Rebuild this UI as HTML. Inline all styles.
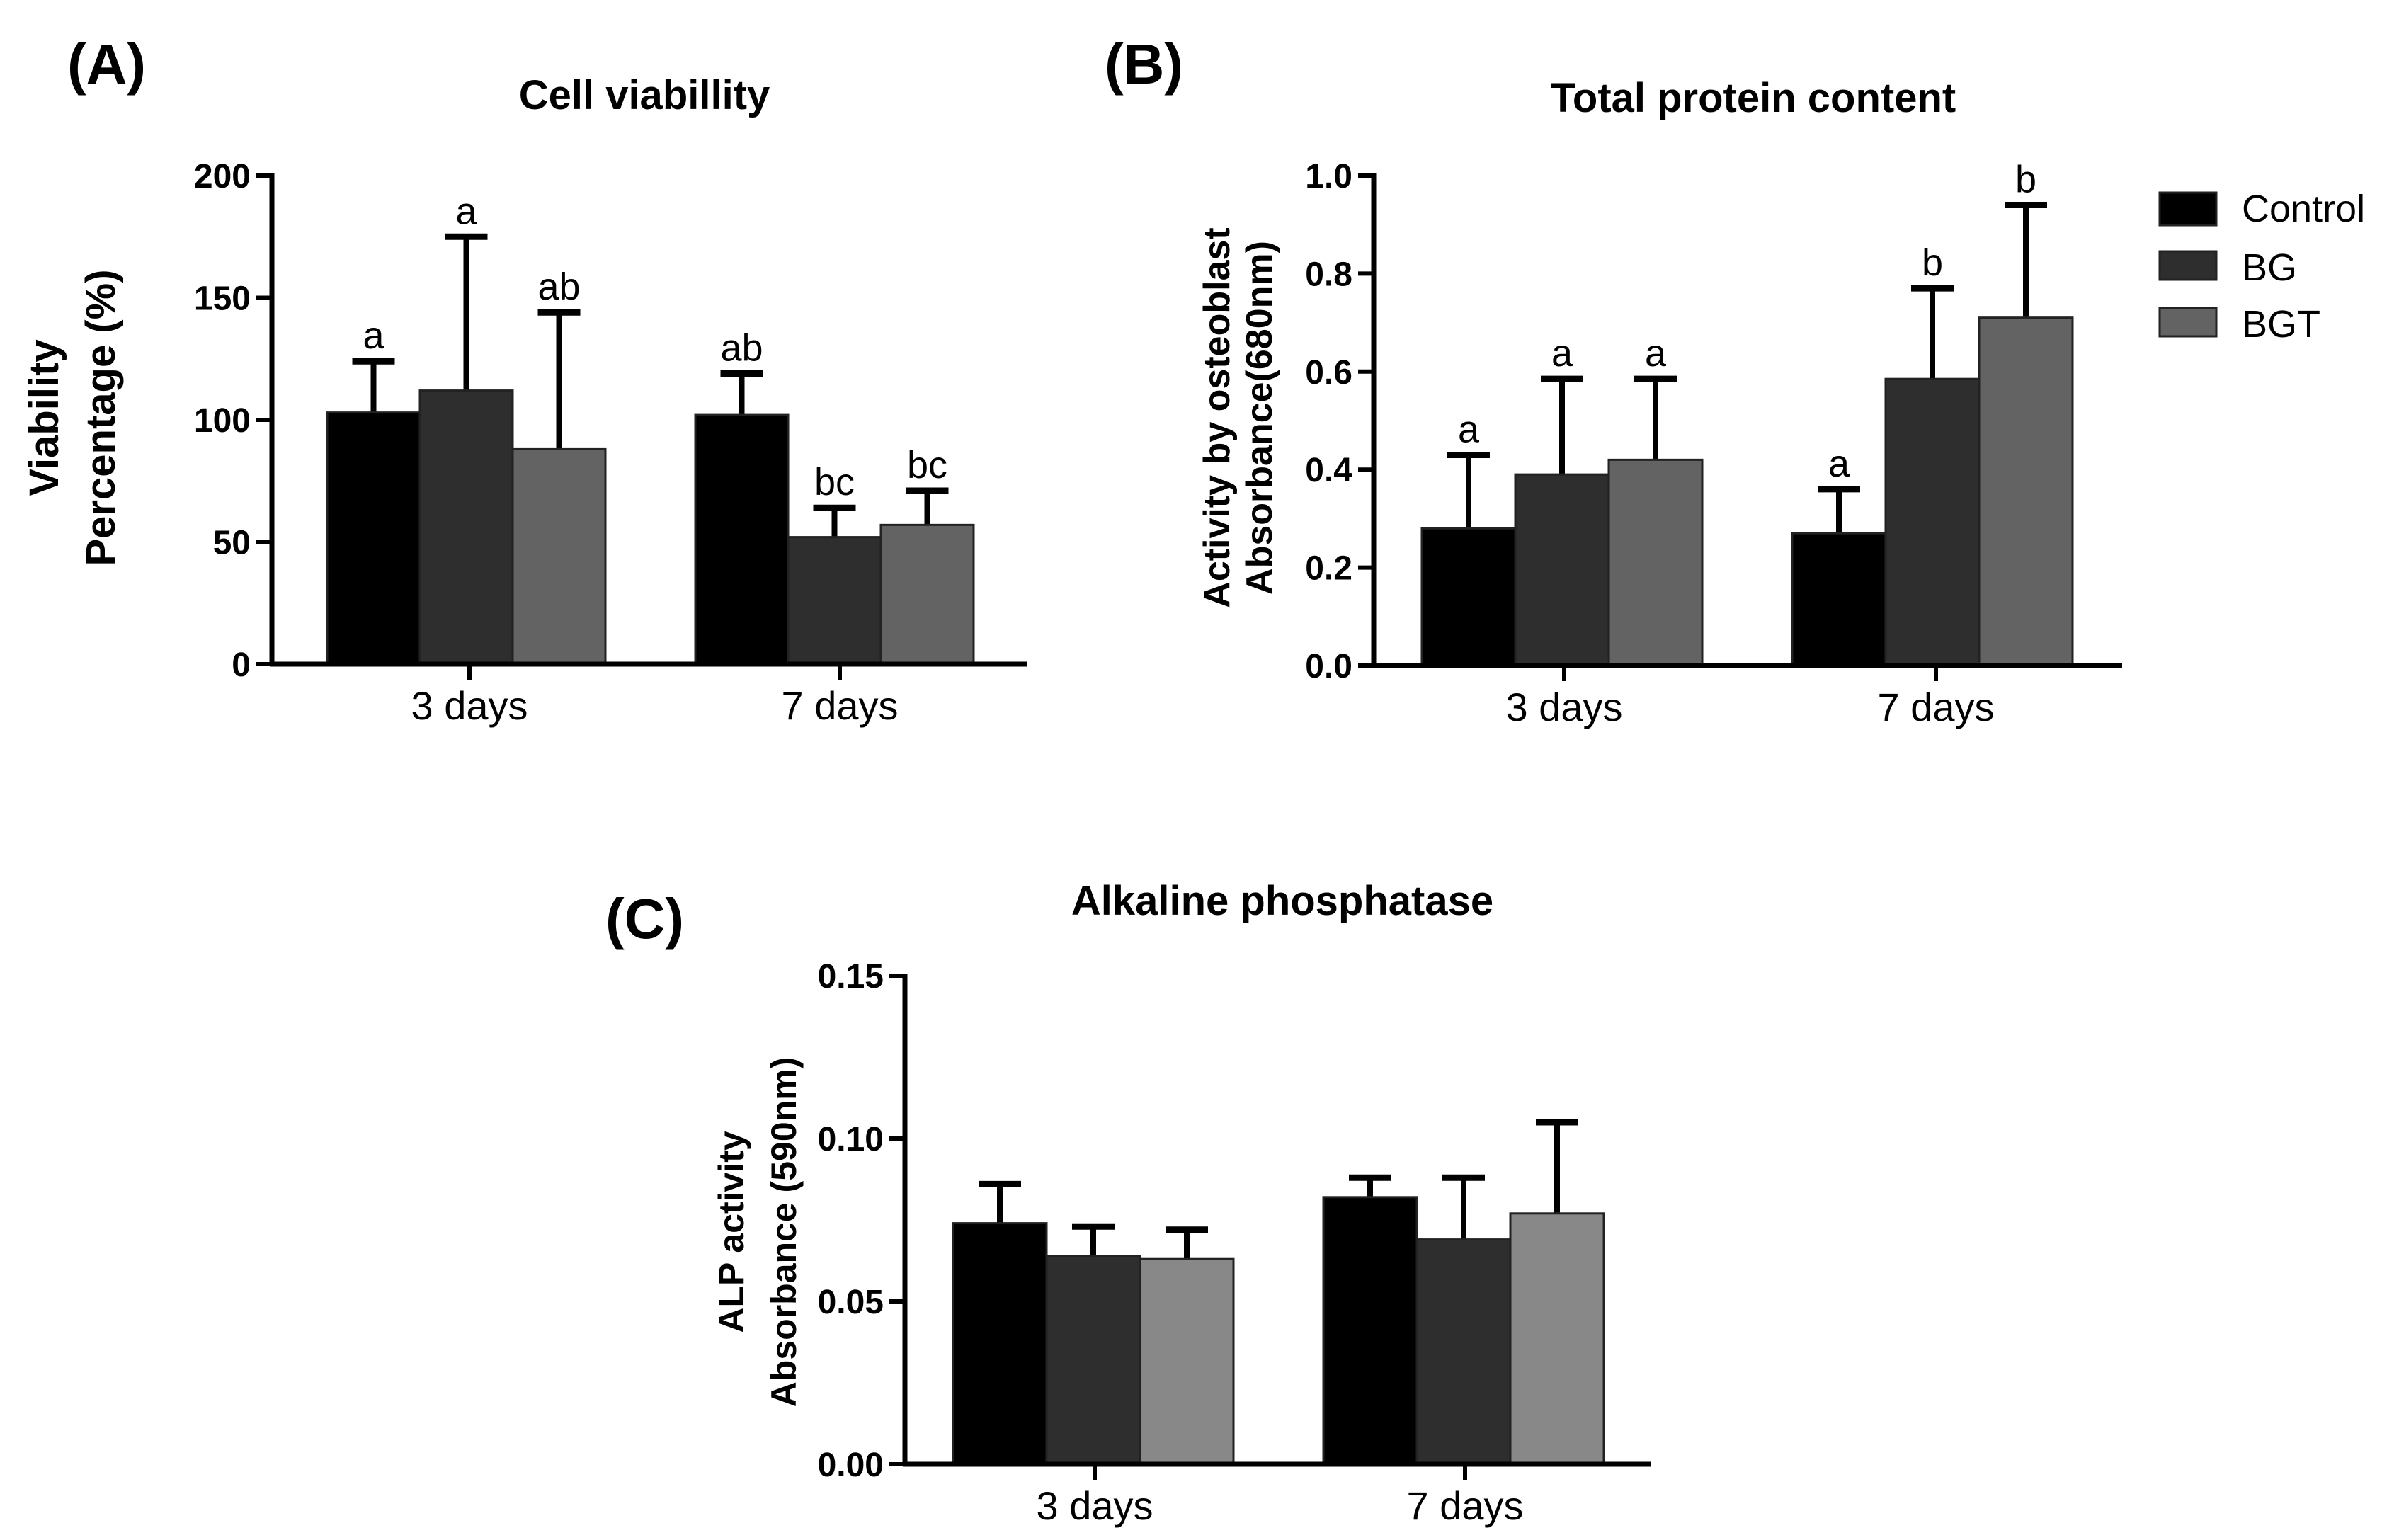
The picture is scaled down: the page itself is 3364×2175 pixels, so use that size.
<!DOCTYPE html>
<html><head><meta charset="utf-8">
<style>
html,body{margin:0;padding:0;background:#fff;}
svg{display:block;font-family:"Liberation Sans",Arial,sans-serif;}
</style></head>
<body>
<svg id="fig" width="3364" height="2175" viewBox="0 0 3364 2175" xmlns="http://www.w3.org/2000/svg">
<rect x="0" y="0" width="3364" height="2175" fill="#fff"/>
<g id="root"></g>
</svg>
<script>
const categories = ["3 days", "7 days"];
const groups = ["Control", "BG", "BGT"];
const viabMeans = [[103, 112, 88], [102, 52, 57]];
const viabErrs = [[124, 175, 144], [119, 64, 71]];
const viabLetters = [["a", "a", "ab"], ["ab", "bc", "bc"]];
const viabTicks = ["0", "50", "100", "150", "200"];
const protMeans = [[0.28, 0.39, 0.42], [0.27, 0.585, 0.71]];
const protErrs = [[0.43, 0.585, 0.585], [0.36, 0.77, 0.94]];
const protLetters = [["a", "a", "a"], ["a", "b", "b"]];
const protTicks = ["0.0", "0.2", "0.4", "0.6", "0.8", "1.0"];
const alpMeans = [[0.074, 0.064, 0.063], [0.082, 0.069, 0.077]];
const alpErrs = [[0.086, 0.073, 0.072], [0.088, 0.088, 0.105]];
const alpTicks = ["0.00", "0.05", "0.10", "0.15"];

const NS = "http://www.w3.org/2000/svg";
const root = document.getElementById("root");
function mk(tag, attrs, parent, text) {
  const e = document.createElementNS(NS, tag);
  for (const k in attrs) e.setAttribute(k, attrs[k]);
  if (text !== undefined) e.textContent = text;
  (parent || root).appendChild(e);
  return e;
}

function panel(cfg) {
  const g = mk("g", {});
  
  
  const ymax = parseFloat(cfg.ticks[cfg.ticks.length - 1]);
  const yS = v => cfg.y0 - (v / ymax) * (cfg.y0 - cfg.yTop);
  cfg.means.forEach((row, ci) => {
    row.forEach((v, gi) => {
      const x0 = cfg.barX[ci] + gi * cfg.barW;
      const xc = x0 + cfg.barW / 2;
      const eTop = yS(cfg.errs[ci][gi]);
      const el = mk("line", {x1: xc, x2: xc, y1: yS(v), y2: eTop, stroke: "#000", "stroke-width": 8}, g);
      
      
      const cap = mk("line", {x1: xc - 30, x2: xc + 30, y1: eTop, y2: eTop, stroke: "#000", "stroke-width": 9}, g);
      
      
      const r = mk("rect", {x: x0, y: yS(v), width: cfg.barW, height: cfg.y0 - yS(v), fill: cfg.colors[gi], stroke: "#222", "stroke-width": 3}, g);
      
      
      if (cfg.letters) {
        const t = mk("text", {x: xc, y: eTop - 18, "font-size": 54, "text-anchor": "middle", fill: "#000"}, g, cfg.letters[ci][gi]);
        
        
      }
    });
  });
  const ya = mk("line", {x1: cfg.ax, x2: cfg.ax, y1: cfg.yTop - 3, y2: cfg.y0 + 3, stroke: "#000", "stroke-width": 7}, g);
  
  
  const xa = mk("line", {x1: cfg.ax - 3, x2: cfg.axEnd, y1: cfg.y0, y2: cfg.y0, stroke: "#000", "stroke-width": 7}, g);
  
  
  cfg.ticks.forEach(tk => {
    const y = yS(parseFloat(tk));
    mk("line", {x1: cfg.ax - 22, x2: cfg.ax, y1: y, y2: y, stroke: "#000", "stroke-width": 6}, g);
    const t = mk("text", {x: cfg.ax - 30, y: y + 17, "font-size": 48, "font-weight": "bold", "text-anchor": "end"}, g, tk);
    
    
  });
  categories.forEach((c, ci) => {
    const x = cfg.tickX[ci];
    mk("line", {x1: x, x2: x, y1: cfg.y0, y2: cfg.y0 + 22, stroke: "#000", "stroke-width": 6}, g);
    const t = mk("text", {x: x, y: cfg.y0 + 78, "font-size": 56, "text-anchor": "middle"}, g, c);
    
    
  });
  const tt = mk("text", {x: cfg.titleX, y: cfg.titleY, "font-size": 58, "font-weight": "bold", "text-anchor": "middle"}, g, cfg.title);
  
  
  const pl = mk("text", {x: cfg.labX, y: cfg.labY, "font-size": 80, "font-weight": "bold"}, g, cfg.label);
  
  
  cfg.yTitle.forEach((line, i) => {
    const x = cfg.yTitleX[i];
    const t = mk("text", {x: x, y: cfg.yTitleY, "font-size": cfg.yTitleSize, "font-weight": "bold", "text-anchor": "middle", transform: "rotate(-90 " + x + " " + cfg.yTitleY + ")"}, g, line);
    
    
  });
}

panel({name: "panel-a-cell-viability", means: viabMeans, errs: viabErrs, letters: viabLetters, ticks: viabTicks,
  y0: 938, yTop: 248, ax: 384, axEnd: 1450, barX: [462, 982], barW: 131, tickX: [663, 1186],
  colors: ["#000", "#2e2e2e", "#636363"], title: "Cell viabillity", titleX: 910, titleY: 154,
  label: "(A)", labX: 95, labY: 118, yTitle: ["Viability", "Percentage (%)"], yTitleX: [82, 162], yTitleY: 590, yTitleSize: 58});

panel({name: "panel-b-total-protein", means: protMeans, errs: protErrs, letters: protLetters, ticks: protTicks,
  y0: 940, yTop: 248, ax: 1940, axEnd: 2997, barX: [2008, 2531], barW: 132, tickX: [2209, 2734],
  colors: ["#000", "#2e2e2e", "#636363"], title: "Total protein content", titleX: 2476, titleY: 158,
  label: "(B)", labX: 1560, labY: 118, yTitle: ["Activity by osteoblast", "Absorbance(680nm)"], yTitleX: [1736, 1796], yTitleY: 590, yTitleSize: 52});

panel({name: "panel-c-alkaline-phosphatase", means: alpMeans, errs: alpErrs, letters: null, ticks: alpTicks,
  y0: 2068, yTop: 1378, ax: 1278, axEnd: 2332, barX: [1346, 1869], barW: 132, tickX: [1546, 2069],
  colors: ["#000", "#2e2e2e", "#888888"], title: "Alkaline phosphatase", titleX: 1811, titleY: 1292,
  label: "(C)", labX: 855, labY: 1325, yTitle: ["ALP activity", "Absorbance (590nm)"], yTitleX: [1050, 1124], yTitleY: 1740, yTitleSize: 50});

const legColors = ["#000", "#2e2e2e", "#636363"];
const legY = [272, 355, 435];
groups.forEach((name, i) => {
  const r = mk("rect", {x: 3050, y: legY[i], width: 80, height: i ? 40 : 46, fill: legColors[i], stroke: "#222", "stroke-width": 3});
  
  
  const t = mk("text", {x: 3166, y: legY[i] + 41, "font-size": 54}, root, name);
  
  
});
</script>
</body></html>
